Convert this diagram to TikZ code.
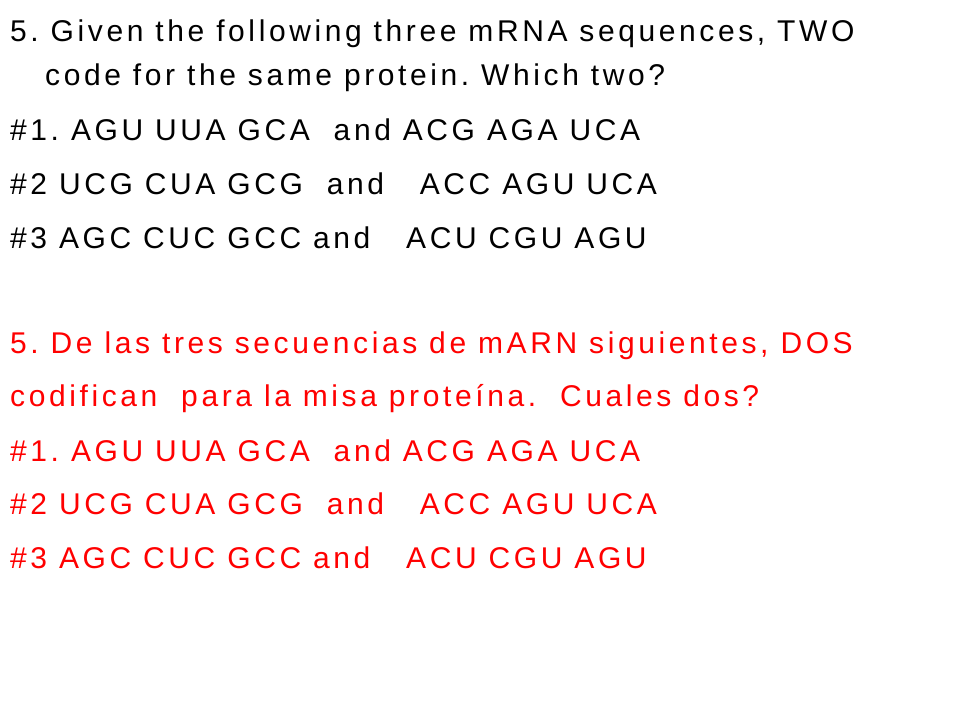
\documentclass[tikz,border=0pt]{standalone}
\usepackage{fontspec}
\setmainfont{Liberation Sans}[LetterSpace=12]
\frenchspacing
\definecolor{redt}{RGB}{255,0,0}
\begin{document}
\begin{tikzpicture}[x=1pt,y=1pt,t/.style={anchor=base west,inner sep=0pt,font=\fontsize{30}{36}\selectfont},r/.style={t,text=redt}]
\useasboundingbox[fill=white] (0,0) rectangle (960,720);
\node[t] (a1) at (10,678) {5. Given the following three mRNA sequences, TWO};
\node[t] (a2) at (45,634) {code for the same protein. Which two?};
\node[t] (a3) at (10,579) {\#1. AGU UUA GCA\ \ and ACG AGA UCA};
\node[t] (a4) at (10,525) {\#2 UCG CUA GCG\ \ and\ \ \ ACC AGU UCA};
\node[t] (a5) at (10,471) {\#3 AGC CUC GCC and\ \ \ ACU CGU AGU};
\node[r] (b1) at (10,366) {5. De las tres secuencias de mARN siguientes, DOS};
\node[r] (b2) at (10,313) {codifican\ \ para la misa proteína.\ \ Cuales dos?};
\node[r] (b3) at (10,258) {\#1. AGU UUA GCA\ \ and ACG AGA UCA};
\node[r] (b4) at (10,205) {\#2 UCG CUA GCG\ \ and\ \ \ ACC AGU UCA};
\node[r] (b5) at (10,151) {\#3 AGC CUC GCC and\ \ \ ACU CGU AGU};
\end{tikzpicture}
\end{document}
